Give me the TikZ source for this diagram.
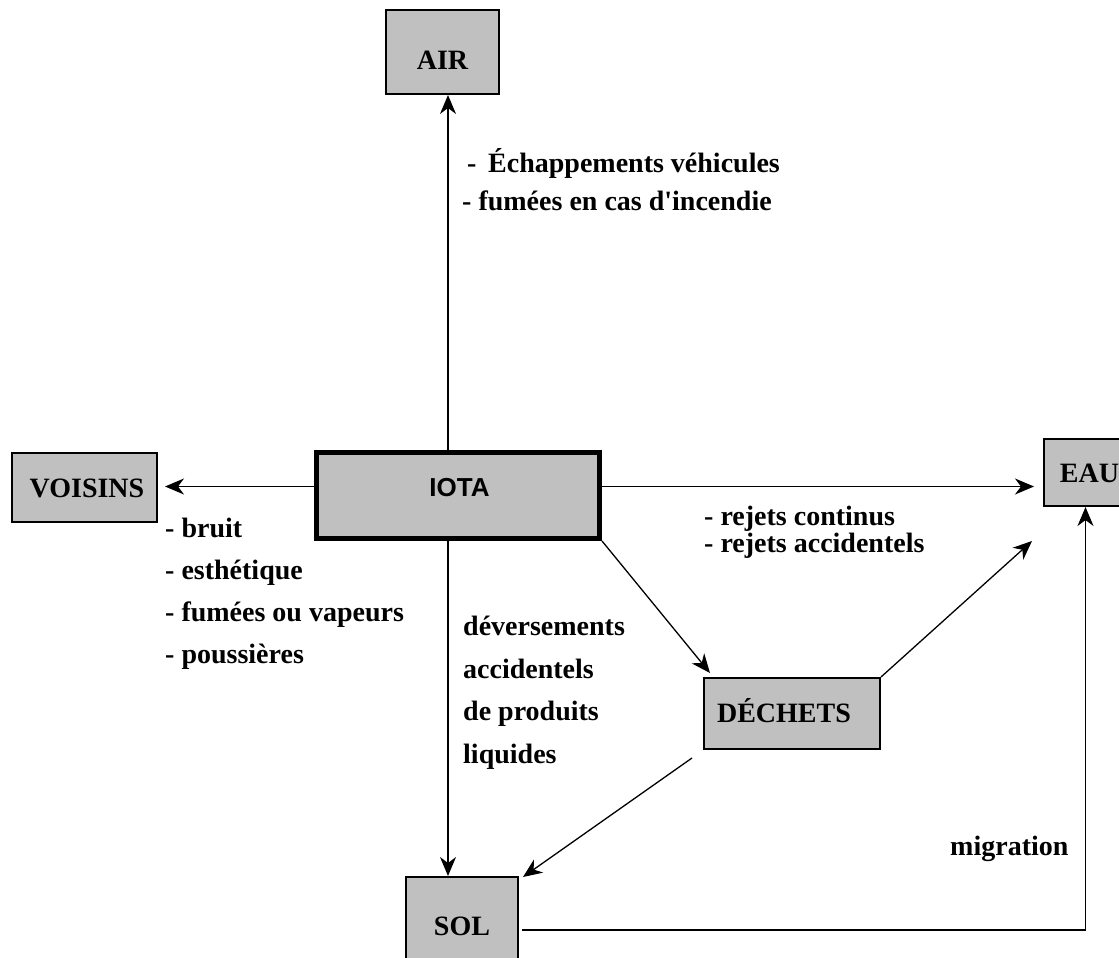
\documentclass[tikz,border=0pt]{standalone}
\usepackage{fontspec}
\setmainfont{Liberation Serif}
\newfontfamily\arialfont{Liberation Sans}
\usetikzlibrary{arrows.meta}
\definecolor{boxgray}{HTML}{C0C0C0}
\tikzset{
  box/.style={draw=black, fill=boxgray, line width=2.2pt, inner sep=0pt},
  thickbox/.style={box, line width=5pt},
  lbl/.style={font=\fontsize{28}{34}\selectfont\bfseries, text height=19pt, text depth=0pt, inner sep=0pt},
  lblsans/.style={font=\fontsize{26}{32}\selectfont\arialfont\bfseries, text height=19pt, text depth=0pt, inner sep=0pt},
  txt/.style={font=\fontsize{28}{34}\selectfont\bfseries, inner sep=0pt, anchor=base west},
  conn/.style={draw=black, line width=1.3pt, -{Stealth[length=19pt,width=16pt,inset=6pt]}},
}
\begin{document}
\begin{tikzpicture}[x=1pt,y=-1pt]
\useasboundingbox (0,0) rectangle (1119,958);

% boxes
\node[box, minimum width=112.8pt, minimum height=83.8pt,
      label={[lbl, yshift=-8pt]center:AIR}] (air) at (442.5,52) {};
\node[box, minimum width=144.8pt, minimum height=68.8pt,
      label={[lbl, xshift=2.5pt]center:VOISINS}] (voisins) at (84.5,487.5) {};
\node[thickbox, minimum width=283pt, minimum height=86pt,
      label={[lblsans, xshift=1.5pt, yshift=8.5pt]center:IOTA}] (iota) at (458,495.5) {};
\node[box, minimum width=92.8pt, minimum height=66.8pt,
      label={[lbl, xshift=-1pt]center:EAU}] (eau) at (1090.5,472.5) {};
\node[box, minimum width=175.8pt, minimum height=70.8pt,
      label={[lbl, xshift=-8pt, yshift=1pt]center:DÉCHETS}] (dechets) at (792,713.5) {};
\node[box, minimum width=111.8pt, minimum height=93.8pt,
      label={[lbl, yshift=-2pt]center:SOL}] (sol) at (462,924) {};

% helper coordinates
\coordinate (vx) at (448,0);
\coordinate (hy) at (0,486.5);
\coordinate (e2) at (1032,541);
\coordinate (d2) at (692,758);
\coordinate (mc) at (1085.5,930);

% connectors
\draw[conn] (iota.north -| vx) -- (air.south -| vx);
\draw[conn] (iota.south -| vx) -- (sol.north -| vx);
\draw[conn, shorten >=7pt] (iota.west |- hy) -- (voisins.east |- hy);
\draw[conn, shorten >=9pt] (iota.east |- hy) -- (eau.west |- hy);
\draw[conn] (iota.south east) -- ([xshift=7pt,yshift=4pt]dechets.north west);
\draw[conn] (dechets.north east) -- (e2);
\draw[conn] (d2) -- ([xshift=4pt,yshift=-1pt]sol.north east);
\draw[conn, shorten <=3pt] (sol.east |- mc) -- (mc) -- (mc |- eau.south);

% texts
\node[txt] (ech) at (467,172) {-\hspace{11.7pt}Échappements véhicules};
\node[txt] (fum) at (462,210) {- fumées en cas d\textquotesingle incendie};

\node[txt] (v1) at (165,537) {- bruit};
\node[txt] (v2) at (165,579) {- esthétique};
\node[txt] (v3) at (165,621) {- fumées ou vapeurs};
\node[txt] (v4) at (165,663) {- poussières};

\node[txt] (d1) at (463,635) {déversements};
\node[txt] (d2t) at (463,678) {accidentels};
\node[txt] (d3) at (463,720) {de produits};
\node[txt] (d4) at (463,763) {liquides};

\node[txt] (r1) at (704,525) {- rejets continus};
\node[txt] (r2) at (704,552) {- rejets accidentels};

\node[txt] (mig) at (950,855) {migration};
\end{tikzpicture}
\end{document}
